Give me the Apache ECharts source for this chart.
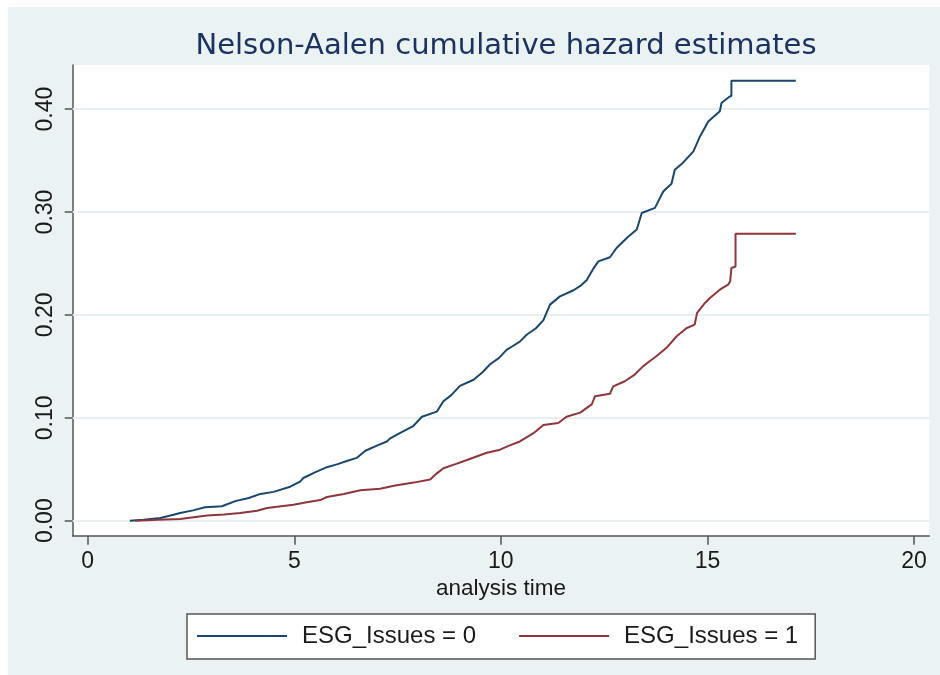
<!DOCTYPE html>
<html>
<head>
<meta charset="utf-8">
<script src="https://cdn.jsdelivr.net/npm/echarts@6/dist/echarts.min.js"></script>
<style>html,body{margin:0;padding:0;background:#fff;}#chart{width:940px;height:675px;}</style>
</head>
<body>
<div id="chart"></div>
<script>
const seriesNames = ['ESG_Issues = 0', 'ESG_Issues = 1'];
const blueTime = [1.02, 1.35, 1.76, 2.0, 2.24, 2.55, 2.84, 3.25, 3.57, 3.9, 4.18, 4.5, 4.9, 5.14, 5.22, 5.5, 5.79, 6.05, 6.27, 6.51, 6.72, 7.0, 7.24, 7.32, 7.6, 7.88, 8.09, 8.45, 8.61, 8.8, 9.01, 9.34, 9.55, 9.74, 9.95, 10.14, 10.3, 10.46, 10.63, 10.85, 11.03, 11.19, 11.43, 11.76, 11.95, 12.08, 12.24, 12.36, 12.64, 12.8, 13.08, 13.29, 13.41, 13.73, 13.93, 14.13, 14.21, 14.41, 14.66, 14.82, 15.02, 15.3, 15.34, 15.53, 15.58, 15.58, 17.14];
const blueHazard = [0, 0.001, 0.0026, 0.005, 0.0075, 0.01, 0.013, 0.014, 0.019, 0.022, 0.026, 0.028, 0.033, 0.038, 0.0415, 0.047, 0.052, 0.055, 0.058, 0.061, 0.068, 0.073, 0.077, 0.08, 0.086, 0.092, 0.101, 0.106, 0.116, 0.122, 0.131, 0.137, 0.144, 0.152, 0.158, 0.166, 0.17, 0.174, 0.181, 0.187, 0.195, 0.21, 0.218, 0.224, 0.229, 0.234, 0.245, 0.252, 0.256, 0.265, 0.276, 0.283, 0.299, 0.304, 0.32, 0.3275, 0.341, 0.348, 0.359, 0.3735, 0.388, 0.398, 0.406, 0.412, 0.413, 0.4276, 0.4276];
const redTime = [1.15, 1.7, 2.24, 2.89, 3.3, 3.69, 4.1, 4.34, 4.98, 5.3, 5.63, 5.79, 6.2, 6.6, 7.08, 7.41, 7.89, 8.29, 8.45, 8.61, 8.9, 9.18, 9.66, 9.98, 10.2, 10.46, 10.79, 11.03, 11.39, 11.59, 11.92, 12.2, 12.28, 12.64, 12.72, 13.0, 13.24, 13.44, 13.6, 13.77, 14.01, 14.25, 14.49, 14.69, 14.75, 14.94, 15.06, 15.3, 15.5, 15.55, 15.58, 15.68, 15.68, 17.14];
const redHazard = [0, 0.0008, 0.0017, 0.005, 0.006, 0.0075, 0.0097, 0.0123, 0.0155, 0.018, 0.02, 0.023, 0.026, 0.0295, 0.031, 0.034, 0.037, 0.04, 0.046, 0.051, 0.055, 0.059, 0.066, 0.069, 0.073, 0.077, 0.085, 0.093, 0.095, 0.101, 0.105, 0.113, 0.121, 0.1234, 0.1306, 0.1355, 0.142, 0.15, 0.155, 0.16, 0.168, 0.179, 0.187, 0.1905, 0.202, 0.2116, 0.2164, 0.2245, 0.2294, 0.2326, 0.2456, 0.247, 0.279, 0.279];
const xTickValues = [0, 5, 10, 15, 20];
const yTickValues = [0, 0.1, 0.2, 0.3, 0.4];
const titleText = 'Nelson-Aalen cumulative hazard estimates';
const xAxisTitle = 'analysis time';

const pairs = (xs, ys) => xs.map((x, i) => [x, ys[i]]);
const axisColor = '#555555';
const tickFont = 'Liberation Sans';

const chart = echarts.init(document.getElementById('chart'), null, {renderer: 'canvas'});
chart.setOption({
  animation: false,
  backgroundColor: '#ffffff',
  graphic: [{
    type: 'rect', z: -10, silent: true,
    shape: {x: 8, y: 7, width: 940, height: 675},
    style: {fill: '#eaf2f3'}
  }],
  title: {
    text: titleText,
    left: 501, top: 27, textAlign: 'center',
    textStyle: {fontFamily: 'DejaVu Sans', fontSize: 29, fontWeight: 'normal', color: '#1c3260'}
  },
  grid: {
    left: 72.7, right: 10.7, top: 65, bottom: 139.3,
    show: true, backgroundColor: '#ffffff', borderWidth: 0
  },
  legend: {
    data: seriesNames,
    left: 187, top: 614,
    orient: 'horizontal',
    icon: 'rect',
    backgroundColor: '#ffffff',
    borderColor: '#555555', borderWidth: 1.5, borderRadius: 0,
    padding: [10, 17, 11, 10],
    itemWidth: 90, itemHeight: 2, itemGap: 43,
    textStyle: {fontFamily: tickFont, fontSize: 24, color: '#1a1a1a', padding: [0, 0, 0, 10]}
  },
  xAxis: {
    type: 'value', min: -0.363, max: 20.37,
    name: xAxisTitle, nameLocation: 'middle', nameGap: 38,
    nameTextStyle: {fontFamily: tickFont, fontSize: 22.5, color: '#1a1a1a'},
    axisLine: {show: true, onZero: false, lineStyle: {color: axisColor, width: 1.5}},
    axisTick: {show: true, length: 9, customValues: xTickValues, lineStyle: {color: axisColor, width: 1.5}},
    axisLabel: {customValues: xTickValues, margin: 14, fontFamily: tickFont, fontSize: 23, color: '#1a1a1a'},
    splitLine: {show: false}
  },
  yAxis: {
    type: 'value', min: -0.0146, max: 0.4429,
    axisLine: {show: true, onZero: false, lineStyle: {color: axisColor, width: 1.5}},
    axisTick: {show: true, length: 8, customValues: yTickValues, lineStyle: {color: axisColor, width: 1.5}},
    axisLabel: {customValues: yTickValues, rotate: 90, margin: 16, fontFamily: tickFont, fontSize: 23, color: '#1a1a1a',
      formatter: v => v.toFixed(2)},
    splitLine: {show: false}
  },
  series: [
    {
      type: 'line', name: '__grid', data: [], z: 1, silent: true,
      markLine: {
        z: 1,
        silent: true, symbol: 'none', label: {show: false}, animation: false,
        lineStyle: {color: '#e7f0f2', width: 2, type: 'solid'},
        emphasis: {disabled: true},
        data: yTickValues.map(v => ({yAxis: v}))
      }
    },
    {
      type: 'line', name: seriesNames[0], data: pairs(blueTime, blueHazard),
      symbol: 'none', z: 3,
      lineStyle: {color: '#1a476f', width: 2}, itemStyle: {color: '#1a476f'}
    },
    {
      type: 'line', name: seriesNames[1], data: pairs(redTime, redHazard),
      symbol: 'none', z: 3,
      lineStyle: {color: '#90353b', width: 2}, itemStyle: {color: '#90353b'}
    }
  ]
});
</script>
</body>
</html>
